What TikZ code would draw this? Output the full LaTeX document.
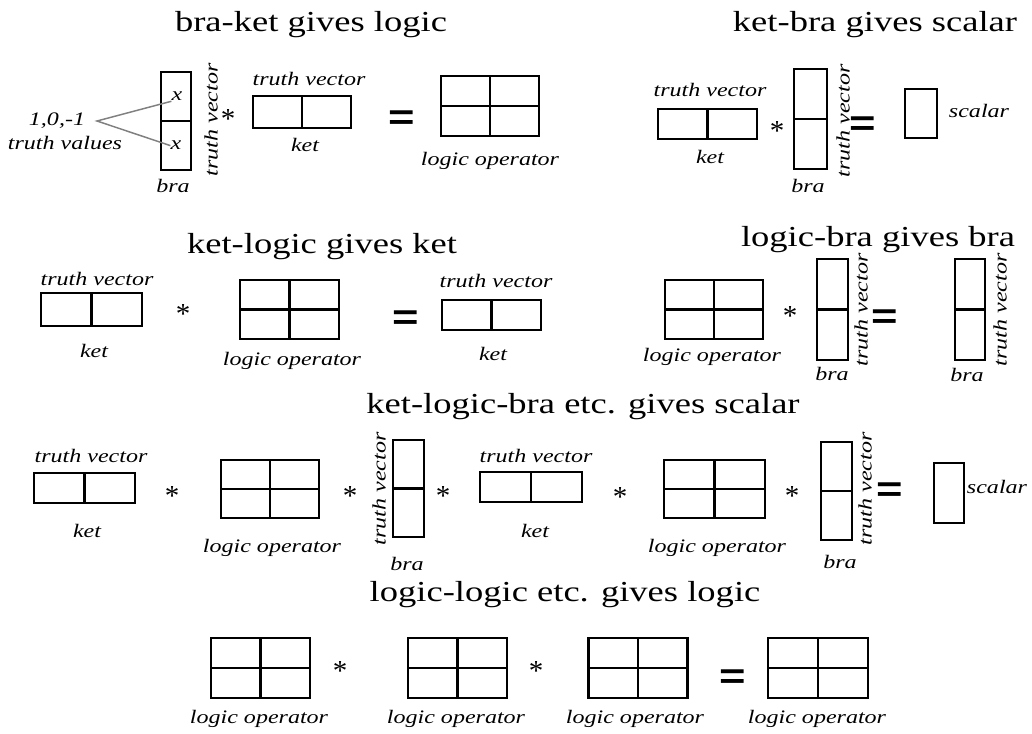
\documentclass[tikz,border=0pt]{standalone}
\usepackage{fontspec}
\setmainfont{Liberation Serif}
\newfontfamily\eqfam{Liberation Sans}
\usepackage{graphicx}
\newcommand{\sx}[1]{\scalebox{1.26}[1]{#1}}
\newcommand{\lblfont}{\fontsize{14.3pt}{16pt}\selectfont\itshape}
\newcommand{\ttlfont}{\fontsize{21.75pt}{24pt}\selectfont}
\newcommand{\eqfont}{\eqfam\bfseries\fontsize{27pt}{30pt}\selectfont}
\tikzset{
  box/.style={draw, line width=1.6pt, inner sep=0pt, outer sep=0pt},
  divl/.style={line width=1.6pt},
  lbl/.style={font=\lblfont, inner sep=0pt, anchor=base},
  rot/.style={font=\lblfont, inner sep=0pt, anchor=center, rotate=90},
  ttl/.style={font=\ttlfont, inner sep=0pt, anchor=base},
  star/.style={font=\ttlfont, inner sep=0pt, anchor=base, yshift=-10.1pt},
  eqs/.style={font=\eqfont, inner sep=0pt, anchor=base, yshift=-9.3pt},
  grey/.style={draw=gray, line width=1.1pt}
}
\begin{document}
\begin{tikzpicture}[x=0.75pt,y=-0.75pt]
\useasboundingbox (0,0) rectangle (1032,734);
\fill[white] (0,0) rectangle (1032,734);

% ---------- row 1 left: bra-ket gives logic
\node[ttl] (t1) at (311,32) {\sx{bra-ket gives logic}};
\node[box, minimum width=30*0.75pt, minimum height=98*0.75pt] (b1) at (176,121) {};
\draw[divl] (b1.west) -- (b1.east);
\node[lbl] (x1) at (177,101) {\sx{x}};
\node[lbl] (x2) at (176,150) {\sx{x}};
\node[lbl] (tv0) at (57,126) {\sx{1,0,-1}};
\node[lbl] (tvs) at (65,150) {\sx{truth values}};
\coordinate (fork) at (97,121);
\draw[grey] (x1.south west) -- (fork) -- (x2.west);
\node[lbl] (bl1) at (173,193) {\sx{bra}};
\node[rot] (v1) at (211,120) {\sx{truth vector}};
\node[star] (s1) at (228,115) {*};
\node[box, minimum width=98*0.75pt, minimum height=32*0.75pt] (k1) at (302,112) {};
\draw[divl] (k1.north) -- (k1.south);
\node[lbl] (tk1) at (309,86) {\sx{truth vector}};
\node[lbl] (kl1) at (305,152) {\sx{ket}};
\node[eqs] (e1) at (402,117) {\sx{=}};
\node[box, minimum width=98*0.75pt, minimum height=60*0.75pt] (l1) at (490,106) {};
\draw[divl] (l1.north) -- (l1.south) (l1.west) -- (l1.east);
\node[lbl] (ll1) at (490,166) {\sx{logic operator}};

% ---------- row 1 right: ket-bra gives scalar
\node[ttl] (t2) at (875,32) {\sx{ket-bra gives scalar}};
\node[lbl] (tk2) at (710,97) {\sx{truth vector}};
\node[box, minimum width=99*0.75pt, minimum height=30*0.75pt] (k2) at (707.5,124) {};
\draw[divl] (k2.north) -- (k2.south);
\node[lbl] (kl2) at (710,164) {\sx{ket}};
\node[star] (s2) at (777,127) {*};
\node[box, minimum width=33*0.75pt, minimum height=100*0.75pt] (b2) at (810.5,119) {};
\draw[divl] (b2.west) -- (b2.east);
\node[rot] (v2) at (843,121) {\sx{truth vector}};
\node[lbl] (bl2) at (808,193) {\sx{bra}};
\node[eqs] (e2) at (863,123) {\sx{=}};
\node[box, minimum width=32*0.75pt, minimum height=49*0.75pt] (sc1) at (921,113.5) {};
\node[lbl] (scl1) at (979,118) {\sx{scalar}};

% ---------- row 2 left: ket-logic gives ket
\node[ttl] (t3) at (322,254) {\sx{ket-logic gives ket}};
\node[lbl] (tk3) at (97,286) {\sx{truth vector}};
\node[box, minimum width=101*0.75pt, minimum height=33*0.75pt] (k3) at (91.5,309.5) {};
\draw[divl] (k3.north) -- (k3.south);
\node[lbl] (kl3) at (94,358) {\sx{ket}};
\node[star] (s3) at (183,310) {*};
\node[box, minimum width=99*0.75pt, minimum height=59*0.75pt] (l3) at (289.5,309.5) {};
\draw[divl] (l3.north) -- (l3.south) (l3.west) -- (l3.east);
\node[lbl] (ll3) at (292,365) {\sx{logic operator}};
\node[eqs] (e3) at (406,317) {\sx{=}};
\node[lbl] (tk4) at (496,288) {\sx{truth vector}};
\node[box, minimum width=99*0.75pt, minimum height=30*0.75pt] (k4) at (491.5,315) {};
\draw[divl] (k4.north) -- (k4.south);
\node[lbl] (kl4) at (493,360) {\sx{ket}};

% ---------- row 2 right: logic-bra gives bra
\node[ttl] (t4) at (878,247) {\sx{logic-bra gives bra}};
\node[box, minimum width=98*0.75pt, minimum height=59*0.75pt] (l4) at (714,309.5) {};
\draw[divl] (l4.north) -- (l4.south) (l4.west) -- (l4.east);
\node[lbl] (ll4) at (712,362) {\sx{logic operator}};
\node[star] (s4) at (790,312) {*};
\node[box, minimum width=31*0.75pt, minimum height=101*0.75pt] (b4) at (832.5,309.5) {};
\draw[divl] (b4.west) -- (b4.east);
\node[rot] (v4) at (861,310) {\sx{truth vector}};
\node[lbl] (bl4) at (832,380) {\sx{bra}};
\node[eqs] (e4) at (885,316) {\sx{=}};
\node[box, minimum width=30*0.75pt, minimum height=101*0.75pt] (b5) at (970,309.5) {};
\draw[divl] (b5.west) -- (b5.east);
\node[rot] (v5) at (1000,310) {\sx{truth vector}};
\node[lbl] (bl5) at (967,382) {\sx{bra}};

% ---------- row 3: ket-logic-bra etc. gives scalar
\node[ttl] (t5) at (583,413) {\sx{ket-logic-bra etc. gives scalar}};
\node[lbl] (tk6) at (91,462) {\sx{truth vector}};
\node[box, minimum width=101*0.75pt, minimum height=30*0.75pt] (k6) at (84.5,488) {};
\draw[divl] (k6.north) -- (k6.south);
\node[lbl] (kl6) at (87,537) {\sx{ket}};
\node[star] (s6) at (172,492) {*};
\node[box, minimum width=98*0.75pt, minimum height=58*0.75pt] (l6) at (270,489) {};
\draw[divl] (l6.north) -- (l6.south) (l6.west) -- (l6.east);
\node[lbl] (ll6) at (272,552) {\sx{logic operator}};
\node[star] (s7) at (350,492) {*};
\node[rot] (v6) at (379,489) {\sx{truth vector}};
\node[box, minimum width=31*0.75pt, minimum height=97*0.75pt] (b6) at (408.5,488.5) {};
\draw[divl] (b6.west) -- (b6.east);
\node[lbl] (bl6) at (407,570) {\sx{bra}};
\node[star] (s8) at (443,492) {*};
\node[lbl] (tk7) at (536,462) {\sx{truth vector}};
\node[box, minimum width=102*0.75pt, minimum height=30*0.75pt] (k7) at (531,487) {};
\draw[divl] (k7.north) -- (k7.south);
\node[lbl] (kl7) at (535,537) {\sx{ket}};
\node[star] (s9) at (620,493) {*};
\node[box, minimum width=101*0.75pt, minimum height=58*0.75pt] (l7) at (714.5,489) {};
\draw[divl] (l7.north) -- (l7.south) (l7.west) -- (l7.east);
\node[lbl] (ll7) at (717,552) {\sx{logic operator}};
\node[star] (s10) at (792,492) {*};
\node[box, minimum width=31*0.75pt, minimum height=98*0.75pt] (b7) at (836.5,491) {};
\draw[divl] (b7.west) -- (b7.east);
\node[rot] (v7) at (865,489) {\sx{truth vector}};
\node[lbl] (bl7) at (840,568) {\sx{bra}};
\node[eqs] (e7) at (890,489) {\sx{=}};
\node[box, minimum width=30*0.75pt, minimum height=60*0.75pt] (sc2) at (949,493) {};
\node[lbl] (scl2) at (997,493) {\sx{scalar}};

% ---------- row 4: logic-logic etc. gives logic
\node[ttl] (t6) at (565,601) {\sx{logic-logic etc. gives logic}};
\node[box, minimum width=99*0.75pt, minimum height=60*0.75pt] (l8) at (260.5,668) {};
\draw[divl] (l8.north) -- (l8.south) (l8.west) -- (l8.east);
\node[lbl] (ll8) at (259,723) {\sx{logic operator}};
\node[star] (s11) at (340,667) {*};
\node[box, minimum width=99*0.75pt, minimum height=60*0.75pt] (l9) at (457.5,668) {};
\draw[divl] (l9.north) -- (l9.south) (l9.west) -- (l9.east);
\node[lbl] (ll9) at (456,723) {\sx{logic operator}};
\node[star] (s12) at (536,667) {*};
\node[box, minimum width=99*0.75pt, minimum height=60*0.75pt] (l10) at (638,668) {};
\draw[divl] (l10.north) -- (l10.south) (l10.west) -- (l10.east);
\node[lbl] (ll10) at (635,723) {\sx{logic operator}};
\node[eqs] (e8) at (733,676) {\sx{=}};
\node[box, minimum width=100*0.75pt, minimum height=60*0.75pt] (l11) at (818,668) {};
\draw[divl] (l11.north) -- (l11.south) (l11.west) -- (l11.east);
\node[lbl] (ll11) at (817,723) {\sx{logic operator}};
\end{tikzpicture}
\end{document}
